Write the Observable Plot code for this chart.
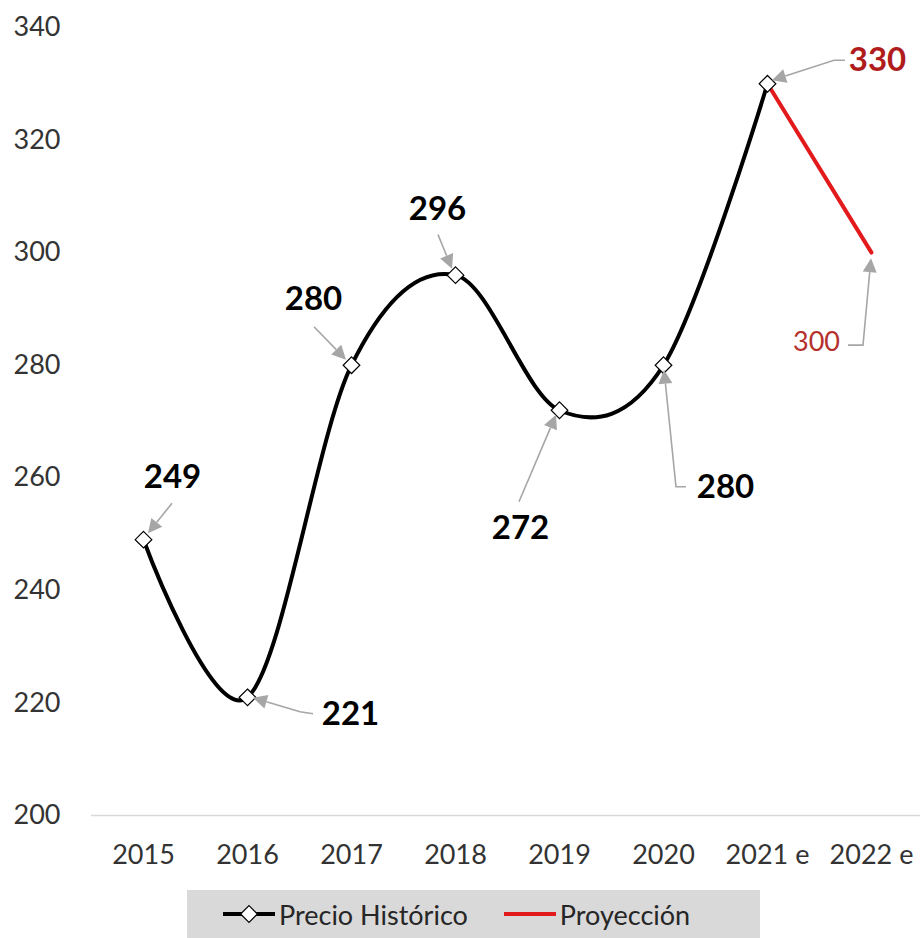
<!DOCTYPE html>
<html><head><meta charset="utf-8">
<script src="https://cdn.jsdelivr.net/npm/d3@7"></script>
<script src="https://cdn.jsdelivr.net/npm/@observablehq/plot@0.6"></script>
<style>
body{margin:0;background:#fff;font-family:Lato,sans-serif;}
#chart{position:absolute;left:0;top:0;}
#legend{position:absolute;left:187px;top:890px;width:573px;height:48px;background:#d9d9d9;display:flex;align-items:center;font-size:27px;color:#262626;box-sizing:border-box;padding-left:36px;}
#legend .item{display:flex;align-items:center;}
#legend svg{display:block;}
</style></head><body>
<div id="chart"></div>
<div id="legend"></div>
<script>
// ---- data ----
const years = ["2015","2016","2017","2018","2019","2020","2021 e","2022 e"];
const historico = [249, 221, 280, 296, 272, 280, 330];   // 2015 .. 2021 e
const proyeccion = [330, 300];                          // 2021 e .. 2022 e
const yTicks = [200, 220, 240, 260, 280, 300, 320, 340];
const seriesNames = ["Precio Histórico", "Proyección"];

// ---- tables built from the arrays ----
const hist = historico.map((v, i) => ({year: years[i], value: v}));
const proj = proyeccion.map((v, i) => ({year: years[6 + i], value: v}));
const labelled = [...hist, proj[1]];

// ---- label layout (pixel offsets from each point; styling only) ----
const layout = [
  {dx: 29,  dy: -62, path: [[29,-36],[5,-6]]},
  {dx: 103, dy: 17,  path: [[66,17],[53,15],[6,1]]},
  {dx: -38, dy: -66, path: [[-37,-38],[-5,-5]]},
  {dx: -18, dy: -66, path: [[-17,-40],[-3,-6]]},
  {dx: -39, dy: 118, path: [[-40,92],[-3,5]]},
  {dx: 62,  dy: 122, path: [[23,122],[13,122],[1,5]]},
  {dx: 110, dy: -23, path: [[78,-23],[67,-23],[5,-3]]},
  {dx: -55, dy: 90,  path: [[-23,93],[-8,93],[0,6]]}
];
const labelStyle = [
  {fill:"#000", weight:"bold", size:33},
  {fill:"#000", weight:"bold", size:33},
  {fill:"#000", weight:"bold", size:33},
  {fill:"#000", weight:"bold", size:33},
  {fill:"#000", weight:"bold", size:33},
  {fill:"#000", weight:"bold", size:33},
  {fill:"#b01c1c", weight:"bold", size:33},
  {fill:"#b5302d", weight:"normal", size:27}
];

function leaders(index, scales) {
  const g = d3.create("svg:g");
  labelled.forEach((p, i) => {
    const px = scales.x(p.year), py = scales.y(p.value);
    const pts = layout[i].path.map(([a, b]) => [px + a, py + b]);
    const [x1, y1] = pts[pts.length - 2], [x2, y2] = pts[pts.length - 1];
    const ang = Math.atan2(y2 - y1, x2 - x1);
    const len = 14, w = 7;
    const bx = x2 - len * Math.cos(ang), by = y2 - len * Math.sin(ang);
    g.append("path")
      .attr("d", d3.line()([...pts.slice(0, -1), [bx, by]]))
      .attr("fill", "none").attr("stroke", "#a6a6a6").attr("stroke-width", 1.6);
    g.append("path")
      .attr("d", `M${x2},${y2}L${bx - w*Math.sin(ang)},${by + w*Math.cos(ang)}L${bx + w*Math.sin(ang)},${by - w*Math.cos(ang)}Z`)
      .attr("fill", "#a6a6a6");
  });
  return g.node();
}

const labelMarks = labelled.map((p, i) => Plot.text([p], {
  x: "year", y: "value", text: d => String(d.value),
  dx: layout[i].dx, dy: layout[i].dy,
  fill: labelStyle[i].fill, fontWeight: labelStyle[i].weight, fontSize: labelStyle[i].size,
  textAnchor: "middle", lineAnchor: "middle"
}));

const chart = Plot.plot({
  width: 920, height: 885,
  marginLeft: 91, marginRight: 0, marginTop: 27, marginBottom: 70,
  style: {fontFamily: "Lato, sans-serif", background: "#fff", overflow: "visible"},
  x: {type: "point", domain: years, range: [143, 871], padding: 0},
  y: {domain: [200, 340]},
  marks: [
    Plot.ruleY([200], {stroke: "#d9d9d9", strokeWidth: 1.5}),
    Plot.axisY(yTicks, {tickSize: 0, tickPadding: 31, fontSize: 27, fill: "#333", label: null}),
    Plot.axisX(years, {tickSize: 0, tickPadding: 29, fontSize: 27, fill: "#333", label: null}),
    Plot.line(hist, {x: "year", y: "value", curve: "cardinal", stroke: "#000", strokeWidth: 4}),
    Plot.line(proj, {x: "year", y: "value", stroke: "#e31a1c", strokeWidth: 4}),
    Plot.dot(hist, {x: "year", y: "value", symbol: "diamond2", r: 7.5, fill: "#fff", stroke: "#000", strokeWidth: 1.2}),
    leaders,
    ...labelMarks
  ]
});
document.getElementById("chart").appendChild(chart);

// ---- legend ----
const legend = d3.select("#legend");
const it1 = legend.append("div").attr("class", "item");
const s1 = it1.append("svg").attr("width", 54).attr("height", 20);
s1.append("line").attr("x1", 0).attr("x2", 52).attr("y1", 10).attr("y2", 10).attr("stroke", "#000").attr("stroke-width", 4);
s1.append("path").attr("d", d3.symbol(d3.symbolDiamond2, 180)()).attr("transform", "translate(26,10)").attr("fill", "#fff").attr("stroke", "#000").attr("stroke-width", 1.2);
it1.append("span").text(seriesNames[0]).style("margin-left", "2px");
const it2 = legend.append("div").attr("class", "item").style("margin-left", "36px");
const s2 = it2.append("svg").attr("width", 54).attr("height", 20);
s2.append("line").attr("x1", 0).attr("x2", 52).attr("y1", 10).attr("y2", 10).attr("stroke", "#e31a1c").attr("stroke-width", 4);
it2.append("span").text(seriesNames[1]).style("margin-left", "2px");
</script>
</body></html>
